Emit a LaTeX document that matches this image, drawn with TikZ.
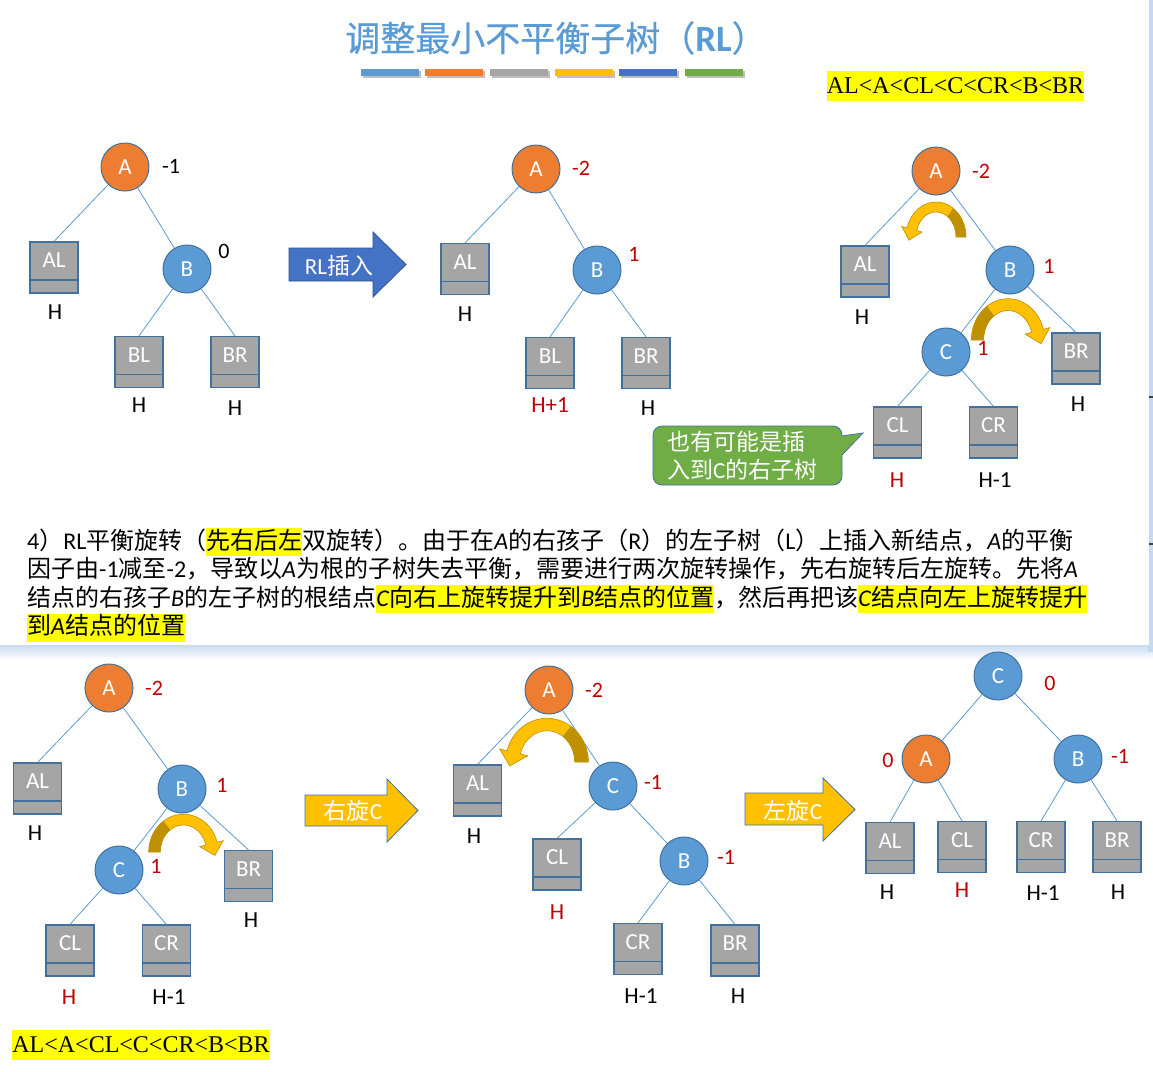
\documentclass[tikz,border=0pt]{standalone}
\usepackage{fontspec}
\setmainfont{Carlito}
\newfontfamily\cjk{Noto Sans CJK SC}
\newfontfamily\cjkmed[FakeBold=0.5]{Noto Sans CJK SC}
\newfontfamily\tnr{Liberation Serif}
\definecolor{nodeblue}{HTML}{5B9BD5}
\definecolor{nodeorange}{HTML}{ED7D31}
\definecolor{nodeborder}{HTML}{41719C}
\definecolor{boxgray}{HTML}{A5A5A5}
\definecolor{edgeblue}{HTML}{5B9BD5}
\definecolor{bfred}{HTML}{C00000}
\definecolor{gold}{HTML}{FFC000}
\definecolor{golddark}{HTML}{BF9000}
\definecolor{arrowblue}{HTML}{4472C4}
\definecolor{arrowblueborder}{HTML}{2F528F}
\definecolor{calloutgreen}{HTML}{70AD47}
\definecolor{hlyellow}{HTML}{FFFF00}
\definecolor{titleblue}{HTML}{5B9BD5}
\definecolor{barA}{HTML}{5B9BD5}
\definecolor{barB}{HTML}{ED7D31}
\definecolor{barC}{HTML}{A5A5A5}
\definecolor{barD}{HTML}{FFC000}
\definecolor{barE}{HTML}{4472C4}
\definecolor{barF}{HTML}{70AD47}
\definecolor{shadowblue}{HTML}{C5D9F1}
\newcommand{\hlite}[1]{{\setlength{\fboxsep}{0pt}\colorbox{hlyellow}{\rule[-7pt]{0pt}{28pt}#1}}}
\tikzset{
  cnode/.style={circle, minimum size=48pt, inner sep=0pt, draw=nodeborder, line width=1pt,
    text=white, font=\fontsize{23}{23}\selectfont},
  onode/.style={cnode, fill=nodeorange},
  bnode/.style={cnode, fill=nodeblue},
  tbox/.style={rectangle, minimum width=48pt, minimum height=51pt, inner sep=0pt,
    fill=boxgray, draw=nodeborder, line width=1.2pt, text=white, text height=0pt, text depth=0pt,
    font=\fontsize{23}{23}\selectfont,
    path picture={\draw[nodeborder, line width=1.2pt]
      ([yshift=13pt]path picture bounding box.south west) --
      ([yshift=13pt]path picture bounding box.south east);}},
  hlab/.style={font=\fontsize{23}{23}\selectfont, text=black, inner sep=0pt},
  hlabr/.style={hlab, text=bfred},
  bal/.style={font=\fontsize{22}{22}\selectfont, text=black, inner sep=0pt},
  balr/.style={bal, text=bfred},
  tedge/.style={draw=edgeblue, line width=0.8pt},
  arrtext/.style={text=white, font=\fontsize{23}{23}\selectfont, inner sep=0pt},
  ordertext/.style={font=\tnr\fontsize{24}{24}\selectfont, fill=hlyellow, inner xsep=0pt,
    inner ysep=0pt, minimum height=30pt},
  para/.style={anchor=base west, inner sep=0pt, font=\fontsize{24}{24}\selectfont},
  curvarr/.pic={
    \filldraw[fill=gold, draw=golddark, line width=0.6pt]
      (30,0) arc[start angle=0,end angle=-165,x radius=30,y radius=35]
      -- (-34.3,-10.5) -- (-27,3.2) -- (-14,-5.0) -- (-19.3,-6.5)
      arc[start angle=-165,end angle=0,x radius=20,y radius=25] -- cycle;
    \fill[golddark]
      (30,0) arc[start angle=0,end angle=-55,x radius=30,y radius=35]
      -- (11.47,-20.48)
      arc[start angle=-55,end angle=0,x radius=20,y radius=25] -- cycle;
  }
}
\begin{document}
\begin{tikzpicture}[x=1pt,y=-1pt]
\useasboundingbox (0,0) rectangle (1153,1071);
\fill[white] (0,0) rectangle (1153,1071);
% slide panel with shadow
\shade[top color=shadowblue, bottom color=white] (0,644) rectangle (1153,660);
\fill[shadowblue] (1148,0) rectangle (1153,652);
\fill[white] (0,0) rectangle (1149,645);
\draw[black!75, line width=1.5pt] (1149,397) -- (1153,397);
\draw[black!75, line width=1.5pt] (1149,544) -- (1153,544);

% title
\node[text=titleblue, inner sep=0pt, font=\fontsize{35}{35}\selectfont] (title) at (556,38)
  {{\cjkmed 调整最小不平衡子树（}{\fontsize{37}{37}\selectfont\bfseries RL}{\cjkmed ）}};
\foreach \xa/\xb/\c in {361/419/barA, 425/483/barB, 490/548/barC, 555/613/barD, 619/677/barE, 685/743/barF}{
  \fill[black!25] (\xa+1.5,70.5) rectangle (\xb+1.5,77.5);
  \fill[\c] (\xa,69) rectangle (\xb,76);
}
\node[ordertext] (ordtop) at (955.5,86) {AL<A<CL<C<CR<B<BR};

% ---------- tree 1
\node[onode] (A1) at (125,167) {A};
\node[bnode] (B1) at (187,269) {B};
\node[tbox] (AL1) at (54,267.5) {AL};
\node[tbox] (BL1) at (139,362) {BL};
\node[tbox] (BR1) at (235,362) {BR};
\draw[tedge] (A1) -- (AL1.north);
\draw[tedge] (A1) -- (B1);
\draw[tedge] (B1) -- (BL1.north);
\draw[tedge] (B1) -- (BR1.north);
\node[bal] (bA1) at (171,166) {-1};
\node[bal] (bB1) at (224,251) {0};
\node[hlab] (hAL1) at (55,312) {H};
\node[hlab] (hBL1) at (139,405) {H};
\node[hlab] (hBR1) at (235,408) {H};

% arrow RL insert
\filldraw[fill=arrowblue, draw=arrowblueborder, line width=0.8pt]
  (289,248) -- (373,248) -- (373,232) -- (406,264.5) -- (373,297) -- (373,281) -- (289,281) -- cycle;
\node[arrtext] (rlins) at (339,266) {RL{\cjk 插入}};

% ---------- tree 2
\node[onode] (A2) at (536,169) {A};
\node[bnode] (B2) at (597,270) {B};
\node[tbox] (AL2) at (465,269) {AL};
\node[tbox] (BL2) at (550,363) {BL};
\node[tbox] (BR2) at (646,363) {BR};
\draw[tedge] (A2) -- (AL2.north);
\draw[tedge] (A2) -- (B2);
\draw[tedge] (B2) -- (BL2.north);
\draw[tedge] (B2) -- (BR2.north);
\node[balr] (bA2) at (581,168) {-2};
\node[balr] (bB2) at (634,254) {1};
\node[hlab] (hAL2) at (465,314) {H};
\node[hlabr] (hBL2) at (550,405) {H+1};
\node[hlab] (hBR2) at (648,408) {H};

% ---------- tree 3
\node[onode] (A3) at (936,171) {A};
\node[bnode] (B3) at (1010,270) {B};
\node[bnode] (C3) at (946,352) {C};
\node[tbox] (AL3) at (865,271.5) {AL};
\node[tbox] (BR3) at (1076,358.5) {BR};
\node[tbox] (CL3) at (897.5,432.5) {CL};
\node[tbox] (CR3) at (993.5,432.5) {CR};
\draw[tedge] (A3) -- (AL3.north);
\draw[tedge] (A3) -- (B3);
\draw[tedge] (B3) -- (C3);
\draw[tedge] (B3) -- (BR3.north);
\draw[tedge] (C3) -- (CL3.north);
\draw[tedge] (C3) -- (CR3.north);
\pic[shift={(936,237)}] {curvarr};
\pic[shift={(1008,340)}, xscale=-1.22, yscale=1.18] {curvarr};
\node[balr] (bA3) at (981,171) {-2};
\node[balr] (bB3) at (1049,266) {1};
\node[balr] (bC3) at (983,348) {1};
\node[hlab] (hAL3) at (862,317) {H};
\node[hlab] (hBR3) at (1078,404) {H};
\node[hlabr] (hCL3) at (897,480) {H};
\node[hlab] (hCR3) at (995,480) {H-1};

% callout
\node[draw=nodeborder, fill=calloutgreen, rounded corners=9pt, minimum width=189pt,
  minimum height=59pt, line width=0.8pt, inner sep=0pt] (callout) at (747.5,455.5) {};
\fill[calloutgreen] (838,436.57) -- (863,433) -- (838,459.2) -- cycle;
\draw[nodeborder, line width=0.8pt] (842,436) -- (863,433) -- (842,455);
\node[text=white, align=left, anchor=west, inner sep=0pt, font=\fontsize{23}{28}\selectfont]
  (callouttext) at (667,456) {{\cjk 也有可能是插}\\{\cjk 入到}C{\cjk 的右子树}};

% paragraph
\node[para] (p1) at (27,549)
  {4{\cjk ）}RL{\cjk 平衡旋转（}\hlite{\cjk 先右后左}{\cjk 双旋转）。由于在}\textit{A}{\cjk 的右孩子（}R{\cjk ）的左子树（}L{\cjk ）上插入新结点，}\textit{A}{\cjk 的平衡}};
\node[para] (p2) at (27,577.5)
  {{\cjk 因子由}-1{\cjk 减至}-2{\cjk ，导致以}\textit{A}{\cjk 为根的子树失去平衡，需要进行两次旋转操作，先右旋转后左旋转。先将}\textit{A}};
\node[para] (p3) at (27,606)
  {{\cjk 结点的右孩子}\textit{B}{\cjk 的左子树的根结点}\hlite{\textit{C}{\cjk 向右上旋转提升到}\textit{B}{\cjk 结点的位置}}{\cjk ，然后再把该}\hlite{\textit{C}{\cjk 结点向左上旋转提升}}};
\node[para] (p4) at (27,634.5)
  {\hlite{{\cjk 到}\textit{A}{\cjk 结点的位置}}};

% ---------- tree 4
\node[onode] (A4) at (109,688) {A};
\node[bnode] (B4) at (182,789) {B};
\node[bnode] (C4) at (119,870) {C};
\node[tbox] (AL4) at (37.5,788.5) {AL};
\node[tbox] (BR4) at (248.5,876) {BR};
\node[tbox] (CL4) at (70,950.5) {CL};
\node[tbox] (CR4) at (166.5,950.5) {CR};
\draw[tedge] (A4) -- (AL4.north);
\draw[tedge] (A4) -- (B4);
\draw[tedge] (B4) -- (C4);
\draw[tedge] (B4) -- (BR4.north);
\draw[tedge] (C4) -- (CL4.north);
\draw[tedge] (C4) -- (CR4.north);
\pic[shift={(183.5,852)}, xscale=-1.16, yscale=1.08] {curvarr};
\node[balr] (bA4) at (154,688) {-2};
\node[balr] (bB4) at (222,785) {1};
\node[balr] (bC4) at (156,866) {1};
\node[hlab] (hAL4) at (35,833) {H};
\node[hlab] (hBR4) at (251,920) {H};
\node[hlabr] (hCL4) at (69,997) {H};
\node[hlab] (hCR4) at (169,997) {H-1};
\node[ordertext] (ordbot) at (141,1045) {AL<A<CL<C<CR<B<BR};

% arrow right rotate
\filldraw[fill=gold, draw=nodeborder, line width=0.8pt]
  (305,795) -- (387,795) -- (387,779) -- (418,810.5) -- (387,842) -- (387,826) -- (305,826) -- cycle;
\node[arrtext] (rotr) at (353,811) {{\cjk 右旋}C};

% ---------- tree 5
\node[onode] (A5) at (549,690) {A};
\node[bnode] (C5) at (613,786) {C};
\node[bnode] (B5) at (684,861) {B};
\node[tbox] (AL5) at (477.5,790.5) {AL};
\node[tbox] (CL5) at (557,864.5) {CL};
\node[tbox] (CR5) at (638,949) {CR};
\node[tbox] (BR5) at (735,950.5) {BR};
\draw[tedge] (A5) -- (AL5.north);
\draw[tedge] (A5) -- (C5);
\draw[tedge] (C5) -- (CL5.north);
\draw[tedge] (C5) -- (B5);
\draw[tedge] (B5) -- (CR5.north);
\draw[tedge] (B5) -- (BR5.north);
\pic[shift={(547,762)}, xscale=1.38, yscale=1.25] {curvarr};
\node[balr] (bA5) at (594,690) {-2};
\node[balr] (bC5) at (653,782) {-1};
\node[balr] (bB5) at (726,857) {-1};
\node[hlab] (hAL5) at (474,836) {H};
\node[hlabr] (hCL5) at (557,912) {H};
\node[hlab] (hCR5) at (641,996) {H-1};
\node[hlab] (hBR5) at (738,996) {H};

% arrow left rotate
\filldraw[fill=gold, draw=nodeborder, line width=0.8pt]
  (745,793) -- (823,793) -- (823,778) -- (855,809.5) -- (823,841) -- (823,825) -- (745,825) -- cycle;
\node[arrtext] (rotl) at (793,811) {{\cjk 左旋}C};

% ---------- tree 6
\node[bnode] (C6) at (998,676) {C};
\node[onode] (A6) at (926,759) {A};
\node[bnode] (B6) at (1078,759) {B};
\node[tbox] (AL6) at (890,848) {AL};
\node[tbox] (CL6) at (962,847) {CL};
\node[tbox] (CR6) at (1041,847) {CR};
\node[tbox] (BR6) at (1117,847) {BR};
\draw[tedge] (C6) -- (A6);
\draw[tedge] (C6) -- (B6);
\draw[tedge] (A6) -- (AL6.north);
\draw[tedge] (A6) -- (CL6.north);
\draw[tedge] (B6) -- (CR6.north);
\draw[tedge] (B6) -- (BR6.north);
\node[balr] (bC6) at (1050,683) {0};
\node[balr] (bA6) at (888,760) {0};
\node[balr] (bB6) at (1120,756) {-1};
\node[hlab] (hAL6) at (887,892) {H};
\node[hlabr] (hCL6) at (962,890) {H};
\node[hlab] (hCR6) at (1043,893) {H-1};
\node[hlab] (hBR6) at (1118,892) {H};
\end{tikzpicture}
\end{document}
